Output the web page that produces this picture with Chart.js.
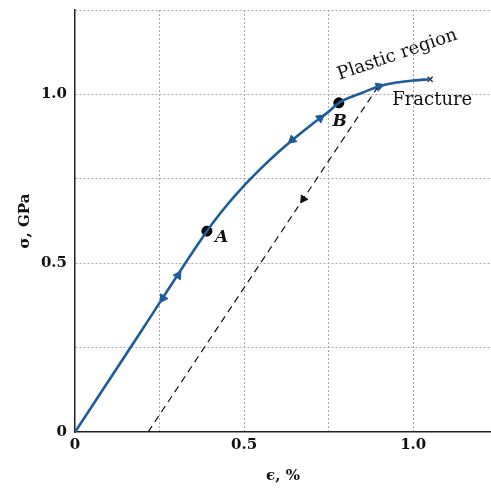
<!DOCTYPE html>
<html>
<head>
<meta charset="utf-8">
<script src="https://cdn.jsdelivr.net/npm/chart.js@4.4.1/dist/chart.umd.min.js"></script>
<style>
html, body { margin: 0; padding: 0; background: #fff; overflow: hidden; }
#wrap { width: 491px; height: 491px; position: relative; }
canvas { display: block; }
</style>
</head>
<body>
<div id="wrap"><canvas id="c"></canvas></div>
<script>
// loading curve, strain in %, stress in GPa
let strain = [0, 0.2, 0.39, 0.45, 0.5, 0.55, 0.6, 0.65, 0.7, 0.75, 0.78, 0.85, 0.9, 0.95, 1.0, 1.05]
let stress = [0, 0.305, 0.595, 0.673, 0.730, 0.781, 0.828, 0.871, 0.911, 0.949, 0.975, 1.005, 1.024, 1.035, 1.041, 1.045]
// unloading line (dashed)
let unloadStrain = [0.216, 0.896]
let unloadStress = [0, 1.023]
// marked points
let pointNames = ["A", "B"]
let pointStrain = [0.39, 0.78]
let pointStress = [0.595, 0.975]
// arrow heads on the curve, +1 = loading, -1 = unloading
let arrowStrain = [0.26, 0.305, 0.642, 0.725, 0.899]
let arrowStress = [0.396, 0.464, 0.865, 0.930, 1.024]
let arrowDir = [-1, 1, -1, 1, 1]
let unloadArrowStrain = [0.675]
let unloadArrowStress = [0.69]
// fracture
let fractureStrain = [1.05]
let fractureStress = [1.045]
let xTicks = [0, 0.5, 1.0]
let yTicks = [0, 0.5, 1.0]

let blue = "#1d5b99"
let serif = "'DejaVu Serif', serif"

function pairs(xs, ys) {
    return xs.map(function (v, i) { return { x: v, y: ys[i] } })
}

function angleAt(chart, xs, ys, x, dir) {
    let sx = chart.scales.x
    let sy = chart.scales.y
    if (!sx || !sy) return 0
    let i = 0
    while (i < xs.length - 2 && xs[i + 1] < x) i++
    let dx = sx.getPixelForValue(xs[i + 1]) - sx.getPixelForValue(xs[i])
    let dy = sy.getPixelForValue(ys[i + 1]) - sy.getPixelForValue(ys[i])
    let a = Math.atan2(dy, dx) * 180 / Math.PI
    if (dir < 0) a += 180
    return a + 90
}

let notes = {
    id: "notes",
    afterDatasetsDraw(chart) {
        let c = chart.ctx
        let sx = chart.scales.x
        let sy = chart.scales.y
        c.save()
        c.fillStyle = "#111"
        c.textBaseline = "middle"

        c.font = "italic bold 17px " + serif
        c.textAlign = "left"
        c.fillText(pointNames[0], sx.getPixelForValue(pointStrain[0]) + 8, sy.getPixelForValue(pointStress[0]) + 6)
        c.textAlign = "center"
        c.fillText(pointNames[1], sx.getPixelForValue(pointStrain[1]) + 1, sy.getPixelForValue(pointStress[1]) + 19)

        c.font = "18px " + serif
        c.textAlign = "left"
        c.fillText("Fracture", sx.getPixelForValue(0.938), sy.getPixelForValue(0.983))

        c.translate(sx.getPixelForValue(0.953), sy.getPixelForValue(1.117))
        c.rotate(-19 * Math.PI / 180)
        c.textAlign = "center"
        c.font = "18px " + serif
        c.fillText("Plastic region", 0, 0)
        c.restore()
    }
}

let ctx = document.querySelector("#c").getContext("2d")

new Chart(ctx, {
    type: "scatter",
    data: {
        datasets: [
            {
                data: pairs(strain, stress),
                showLine: true,
                borderColor: blue,
                borderWidth: 2.6,
                pointRadius: 0,
                cubicInterpolationMode: "monotone"
            },
            {
                data: pairs(unloadStrain, unloadStress),
                showLine: true,
                borderColor: "#111",
                borderWidth: 1.2,
                borderDash: [7, 5],
                pointRadius: 0
            },
            {
                data: pairs(arrowStrain, arrowStress),
                pointStyle: "triangle",
                pointRadius: 5,
                backgroundColor: blue,
                borderColor: blue,
                borderWidth: 1,
                rotation: function (c) {
                    return angleAt(c.chart, strain, stress, arrowStrain[c.dataIndex], arrowDir[c.dataIndex])
                }
            },
            {
                data: pairs(unloadArrowStrain, unloadArrowStress),
                pointStyle: "triangle",
                pointRadius: 4.5,
                backgroundColor: "#111",
                borderColor: "#111",
                borderWidth: 1,
                rotation: function (c) {
                    return angleAt(c.chart, unloadStrain, unloadStress, unloadArrowStrain[c.dataIndex], -1)
                }
            },
            {
                data: pairs(pointStrain, pointStress),
                pointRadius: 5,
                backgroundColor: "#000",
                borderColor: "#000"
            },
            {
                data: pairs(fractureStrain, fractureStress),
                pointStyle: "crossRot",
                pointRadius: 3.5,
                borderColor: "#222",
                borderWidth: 1.3
            }
        ]
    },
    options: {
        responsive: true,
        maintainAspectRatio: false,
        animation: false,
        layout: { autoPadding: false, padding: { top: 10, right: 0, left: 0, bottom: 0 } },
        plugins: {
            legend: { display: false },
            tooltip: { enabled: false }
        },
        scales: {
            x: {
                type: "linear",
                min: 0,
                max: 1.23,
                afterFit: function (s) {
                    s.height = 59
                    s.paddingLeft = 0
                    s.paddingRight = 0
                },
                afterBuildTicks: function (s) {
                    s.ticks = s.ticks.filter(function (t) { return Math.abs(t.value / 0.25 - Math.round(t.value / 0.25)) < 1e-6 })
                },
                ticks: {
                    stepSize: 0.25,
                    padding: 4,
                    color: "#111",
                    font: { family: serif, size: 15, weight: "bold" },
                    callback: function (v) {
                        let k = xTicks.findIndex(function (t) { return Math.abs(t - v) < 1e-6 })
                        return k < 0 ? "" : (v === 0 ? "0" : v.toFixed(1))
                    }
                },
                grid: {
                    color: function (c) { return c.tick && c.tick.value === 0 ? "rgba(0,0,0,0)" : "#a8a8a8" },
                    lineWidth: 1,
                    drawTicks: false
                },
                border: { display: true, color: "#222", width: 1.5, dash: [2, 2] },
                title: {
                    display: true,
                    text: "ϵ, %",
                    color: "#111",
                    padding: { top: 0, bottom: 6 },
                    font: { family: serif, size: 15, weight: "bold" }
                }
            },
            y: {
                type: "linear",
                min: 0,
                max: 1.25,
                afterFit: function (s) {
                    s.width = 75
                    s.paddingTop = 0
                    s.paddingBottom = 0
                },
                ticks: {
                    stepSize: 0.25,
                    padding: 8,
                    color: "#111",
                    font: { family: serif, size: 15, weight: "bold" },
                    callback: function (v) {
                        let k = yTicks.findIndex(function (t) { return Math.abs(t - v) < 1e-6 })
                        return k < 0 ? "" : (v === 0 ? "0" : v.toFixed(1))
                    }
                },
                grid: {
                    color: function (c) { return c.tick && c.tick.value === 0 ? "rgba(0,0,0,0)" : "#a8a8a8" },
                    lineWidth: 1,
                    drawTicks: false
                },
                border: { display: true, color: "#222", width: 1.5, dash: [2, 2] },
                title: {
                    display: true,
                    text: "σ, GPa",
                    color: "#111",
                    padding: { top: 16, bottom: 0 },
                    font: { family: serif, size: 15, weight: "bold" }
                }
            }
        }
    },
    plugins: [notes]
})
</script>
</body>
</html>
